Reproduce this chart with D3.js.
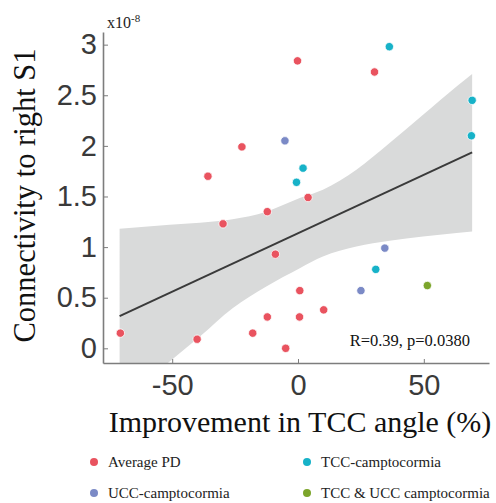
<!DOCTYPE html>
<html lang="en">
<head>
<meta charset="UTF-8">
<title>Connectivity vs TCC improvement</title>
<style>
  body { margin: 0; background: #fff; }
</style>
</head>
<body>
<script src="https://cdn.jsdelivr.net/npm/d3@7"></script>
<script>
  // groups
  const groups = ['Average PD', 'UCC-camptocormia', 'TCC-camptocormia', 'TCC & UCC camptocormia'];
  const groupColors = ['#E9535F', '#7B8AC6', '#17B2C8', '#7CA52B'];

  // points: improvement in TCC angle (%), connectivity (x1e-8), group index
  const improvement = [-0.2, 30.4, -22.3, -35.8, 4.0, -12.2, -29.8, -9.0, 0.7, 10.2, -12.2, 0.6, -70.6, -18.0, -40.1, -4.9,
                       36.3, 69.2, 68.9, 2.0, -0.6, 30.9,
                       -5.2, 34.5, 25.0,
                       51.4];
  const connectivity = [2.84, 2.73, 1.99, 1.70, 1.49, 1.35, 1.23, 0.93, 0.57, 0.38, 0.31, 0.31, 0.15, 0.15, 0.09, 0.00,
                        2.98, 2.45, 2.10, 1.78, 1.64, 0.78,
                        2.05, 0.99, 0.57,
                        0.62];
  const group = [0, 0, 0, 0, 0, 0, 0, 0, 0, 0, 0, 0, 0, 0, 0, 0,
                 2, 2, 2, 2, 2, 2,
                 1, 1, 1,
                 3];

  // fitted line and confidence band
  const fitX = [-70.9, 69.2];
  const fitY = [0.318, 1.935];
  const bandX = [-70.9, -51, -39, -26, -12.6, 0.7, 9.9, 23.2, 36.4, 49.7, 63, 69.2];
  const bandHi = [1.181, 1.222, 1.24, 1.275, 1.35, 1.484, 1.566, 1.764, 2.028, 2.307, 2.587, 2.71];
  const bandLo = [-0.55, -0.13, 0.117, 0.397, 0.611, 0.792, 0.907, 1.006, 1.062, 1.105, 1.139, 1.154];

  // ticks
  const xTicks = [-50, 0, 50];
  const yTicks = [0, 0.5, 1, 1.5, 2, 2.5, 3];
  const yTickLabels = ['0', '0.5', '1', '1.5', '2', '2.5', '3'];

  const width = 496, height = 503;
  const margin = { top: 32, right: 7, bottom: 140, left: 103 };

  const svg = d3.select('body').append('svg')
    .attr('width', width)
    .attr('height', height);

  const x = d3.scaleLinear().domain([-77.5, 75.9]).range([margin.left, width - margin.right]);
  const y = d3.scaleLinear().domain([-0.145, 3.125]).range([height - margin.bottom, margin.top]);

  svg.append('clipPath').attr('id', 'plot')
    .append('rect')
    .attr('x', margin.left).attr('y', margin.top)
    .attr('width', width - margin.left - margin.right)
    .attr('height', height - margin.top - margin.bottom);

  // band
  const bandData = bandX.map((d, i) => [d, bandLo[i], bandHi[i]]);
  svg.append('path')
    .datum(bandData)
    .attr('clip-path', 'url(#plot)')
    .attr('fill', '#D9DADA')
    .attr('d', d3.area()
      .x(d => x(d[0]))
      .y0(d => y(d[1]))
      .y1(d => y(d[2]))
      .curve(d3.curveMonotoneX));

  // fit line
  svg.append('path')
    .datum(fitX.map((d, i) => [d, fitY[i]]))
    .attr('fill', 'none')
    .attr('stroke', '#3a3a3a')
    .attr('stroke-width', 2)
    .attr('d', d3.line().x(d => x(d[0])).y(d => y(d[1])));

  // points
  svg.append('g').selectAll('circle')
    .data(improvement)
    .join('circle')
    .attr('cx', d => x(d))
    .attr('cy', (d, i) => y(connectivity[i]))
    .attr('r', 4.2)
    .attr('fill', (d, i) => groupColors[group[i]])
    .attr('stroke', '#fff')
    .attr('stroke-width', 0.8);

  // axes
  const xAxis = d3.axisBottom(x).tickValues(xTicks).tickSizeInner(-4).tickSizeOuter(0).tickPadding(11)
    .tickFormat(d => d);
  const yAxis = d3.axisLeft(y).tickValues(yTicks).tickSizeInner(-5).tickSizeOuter(0).tickPadding(6)
    .tickFormat((d, i) => yTickLabels[i]);

  const styleAxis = g => {
    g.select('.domain').attr('stroke', '#7d7d7d').attr('stroke-width', 1.6);
    g.selectAll('.tick line').attr('stroke', '#7d7d7d').attr('stroke-width', 1);
    g.selectAll('.tick text')
      .attr('fill', '#3a3a3a')
      .style('font-family', '"Liberation Sans", Arial, sans-serif')
      .style('font-size', '29px');
  };

  svg.append('g')
    .attr('transform', `translate(0,${height - margin.bottom})`)
    .call(xAxis)
    .call(styleAxis);

  svg.append('g')
    .attr('transform', `translate(${margin.left},0)`)
    .call(yAxis)
    .call(styleAxis);

  // exponent
  const expo = svg.append('text')
    .attr('x', 107).attr('y', 28)
    .attr('fill', '#222')
    .style('font-family', '"Liberation Serif", "Times New Roman", serif')
    .style('font-size', '16px')
    .text('x10');
  expo.append('tspan')
    .attr('dy', -6)
    .style('font-size', '11px')
    .text('-8');

  // axis labels
  svg.append('text')
    .attr('x', (margin.left + width - margin.right) / 2 + 4)
    .attr('y', 432)
    .attr('text-anchor', 'middle')
    .attr('fill', '#111')
    .style('font-family', '"Liberation Serif", "Times New Roman", serif')
    .style('font-size', '30px')
    .text('Improvement in TCC angle (%)');

  svg.append('text')
    .attr('transform', `translate(35,${(margin.top + height - margin.bottom) / 2 - 2}) rotate(-90)`)
    .attr('text-anchor', 'middle')
    .attr('fill', '#111')
    .style('font-family', '"Liberation Serif", "Times New Roman", serif')
    .style('font-size', '30.5px')
    .text('Connectivity to right S1');

  // stats
  svg.append('text')
    .attr('x', 470).attr('y', 346)
    .attr('text-anchor', 'end')
    .attr('fill', '#111')
    .style('font-family', '"Liberation Serif", "Times New Roman", serif')
    .style('font-size', '16.5px')
    .text('R=0.39, p=0.0380');

  // legend
  const legendPos = [[94, 462], [94, 493], [307, 462], [307, 493]];
  const legend = svg.append('g').selectAll('g')
    .data(groups)
    .join('g')
    .attr('transform', (d, i) => `translate(${legendPos[i][0]},${legendPos[i][1]})`);
  legend.append('circle')
    .attr('r', 4)
    .attr('fill', (d, i) => groupColors[i]);
  legend.append('text')
    .attr('x', 14)
    .attr('dy', '0.35em')
    .attr('fill', '#222')
    .style('font-family', '"Liberation Serif", "Times New Roman", serif')
    .style('font-size', '15px')
    .text(d => d);
</script>
</body>
</html>
